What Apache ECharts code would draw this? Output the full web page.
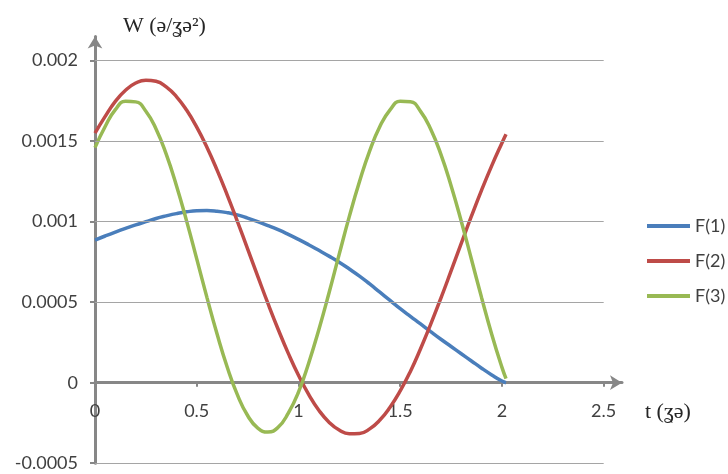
<!DOCTYPE html>
<html>
<head>
<meta charset="utf-8">
<script src="https://cdn.jsdelivr.net/npm/echarts@6/dist/echarts.min.js"></script>
<style>
  html, body { margin: 0; padding: 0; background: #ffffff; }
  #chart { width: 728px; height: 474px; }
</style>
</head>
<body>
<div id="chart"></div>
<script>
// time samples, t
const tValues = [0, 0.05, 0.1, 0.15, 0.2, 0.25, 0.3, 0.35, 0.4, 0.45, 0.5, 0.55, 0.6, 0.65,
                 0.7, 0.75, 0.8, 0.85, 0.9, 0.95, 1.0, 1.05, 1.1, 1.15, 1.2, 1.25, 1.3, 1.35,
                 1.4, 1.45, 1.5, 1.55, 1.6, 1.65, 1.7, 1.75, 1.8, 1.85, 1.9, 1.95, 2.0, 2.02];

// W for each mode
const f1Values = [0.000886, 0.000911, 0.000935, 0.000958, 0.000980, 0.001000, 0.001020,
                  0.001036, 0.001050, 0.001061, 0.001068, 0.001069, 0.001065, 0.001056,
                  0.001042, 0.001022, 0.001000, 0.000976, 0.000950, 0.000921, 0.000890,
                  0.000857, 0.000822, 0.000786, 0.000748, 0.000706, 0.000662, 0.000613,
                  0.000562, 0.000511, 0.000460, 0.000412, 0.000365, 0.000317, 0.000270,
                  0.000225, 0.000180, 0.000135, 0.000090, 0.000048, 0.000010, 0];
const f2Values = [0.001550, 0.001654, 0.001747, 0.001816, 0.001861, 0.001879, 0.001872,
                  0.001837, 0.001777, 0.001693, 0.001587, 0.001462, 0.001320, 0.001165,
                  0.001001, 0.000831, 0.000660, 0.000492, 0.000332, 0.000182, 0.000046,
                  -0.000073, -0.000171, -0.000245, -0.000294, -0.000317, -0.000315, -0.000287,
                  -0.000232, -0.000152, -0.000051, 0.000070, 0.000211, 0.000364, 0.000525,
                  0.000694, 0.000865, 0.001034, 0.001196, 0.001348, 0.001489, 0.001543];
const f3Values = [0.001460, 0.001591, 0.001696, 0.001748, 0.001744, 0.001686, 0.001576,
                  0.001419, 0.001225, 0.001005, 0.000769, 0.000530, 0.000302, 0.000096,
                  -0.000076, -0.000204, -0.000282, -0.000307, -0.000277, -0.000189, -0.000059,
                  0.000121, 0.000329, 0.000557, 0.000797, 0.001033, 0.001249, 0.001440,
                  0.001591, 0.001694, 0.001748, 0.001745, 0.001685, 0.001574, 0.001418,
                  0.001223, 0.001003, 0.000767, 0.000528, 0.000300, 0.000095, 0.000025];

const seriesNames = ['F(1)', 'F(2)', 'F(3)'];
const seriesColors = ['#4a7ebb', '#be4b48', '#98b954'];

// axis ticks
const xTicks = [0, 0.5, 1, 1.5, 2, 2.5];
const yTicks = [-0.0005, 0, 0.0005, 0.001, 0.0015, 0.002];
const yGridValues = [-0.0005, 0.0005, 0.001, 0.0015, 0.002];

const labelFont = 'Lato';
const labelColor = '#404040';
const axisColor = '#878787';

// plot box and axis ranges
const W = 728, H = 474;
const gridBox = { left: 95, right: 106, top: 36.5, bottom: 10.8 };
const xRange = [0, 2.59];
const yRange = [-0.0005, 0.00215];

// the horizontal axis sits on W = 0: shift it up from the bottom edge of the plot
const plotHeight = H - gridBox.top - gridBox.bottom;
const zeroShift = (0 - yRange[0]) / (yRange[1] - yRange[0]) * plotHeight;

const pair = (a, b) => a.map((t, i) => [t, b[i]]);
const valueSets = [f1Values, f2Values, f3Values];

const curveSeries = seriesNames.map((name, i) => ({
  name: name,
  type: 'line',
  data: pair(tValues, valueSets[i]),
  smooth: true,
  showSymbol: false,
  symbol: 'none',
  z: 3,
  lineStyle: { color: seriesColors[i], width: 3.5 },
  itemStyle: { color: seriesColors[i] }
}));

// horizontal grid lines ending at t = 2.5
const gridSeries = {
  name: 'gridlines',
  type: 'line',
  data: [],
  z: 1,
  silent: true,
  markLine: {
    silent: true,
    symbol: ['none', 'none'],
    label: { show: false },
    animation: false,
    lineStyle: { color: '#a5a5a5', width: 1.2, type: 'solid' },
    emphasis: { disabled: true },
    data: yGridValues.map(v => [{ coord: [xTicks[0], v] }, { coord: [xTicks[xTicks.length - 1], v] }])
  }
};

const fmt = v => String(Math.round(v * 1e4) / 1e4);

const option = {
  animation: false,
  backgroundColor: '#ffffff',
  title: [
    {
      text: 'W (ə/ʓə²)',
      left: 123, top: 14, padding: 0,
      textStyle: { fontFamily: 'Liberation Serif', fontSize: 22, fontWeight: 'normal', color: '#262626', lineHeight: 24 }
    },
    {
      text: 't (ʓə)',
      left: 645, top: 400, padding: 0,
      textStyle: { fontFamily: 'Liberation Serif', fontSize: 22, fontWeight: 'normal', color: '#262626', lineHeight: 24 }
    }
  ],
  legend: {
    data: seriesNames,
    orient: 'vertical',
    left: 647,
    top: 217,
    padding: 0,
    itemWidth: 43,
    itemHeight: 4,
    itemGap: 17,
    icon: 'rect',
    textStyle: { fontFamily: labelFont, fontSize: 18, lineHeight: 18, color: labelColor }
  },
  grid: {
    left: gridBox.left, right: gridBox.right, top: gridBox.top, bottom: gridBox.bottom,
    containLabel: false,
    outerBoundsMode: 'none'
  },
  xAxis: {
    type: 'value',
    position: 'bottom',
    offset: -zeroShift,
    min: xRange[0],
    max: xRange[1],
    interval: 0.5,
    axisLine: {
      onZero: false,
      symbol: ['none', 'arrow'],
      symbolSize: [11, 12],
      lineStyle: { color: axisColor, width: 3 }
    },
    axisTick: { show: true, customValues: xTicks, length: 4, lineStyle: { color: axisColor, width: 2 } },
    axisLabel: {
      customValues: xTicks, margin: 19, fontFamily: labelFont, fontSize: 18, color: labelColor,
      formatter: fmt
    },
    splitLine: { show: false }
  },
  yAxis: {
    type: 'value',
    min: yRange[0],
    max: yRange[1],
    interval: 0.0005,
    axisLine: {
      show: true,
      onZero: false,
      symbol: ['none', 'arrow'],
      symbolSize: [11, 12],
      lineStyle: { color: axisColor, width: 3 }
    },
    axisTick: { show: true, customValues: yTicks, length: 5, lineStyle: { color: axisColor, width: 2 } },
    axisLabel: {
      customValues: yTicks, margin: 17, fontFamily: labelFont, fontSize: 18, color: labelColor,
      formatter: fmt
    },
    splitLine: { show: false }
  },
  series: [gridSeries].concat(curveSeries)
};

const chart = echarts.init(document.getElementById('chart'), null, { renderer: 'canvas', width: W, height: H });
chart.setOption(option);
</script>
</body>
</html>
